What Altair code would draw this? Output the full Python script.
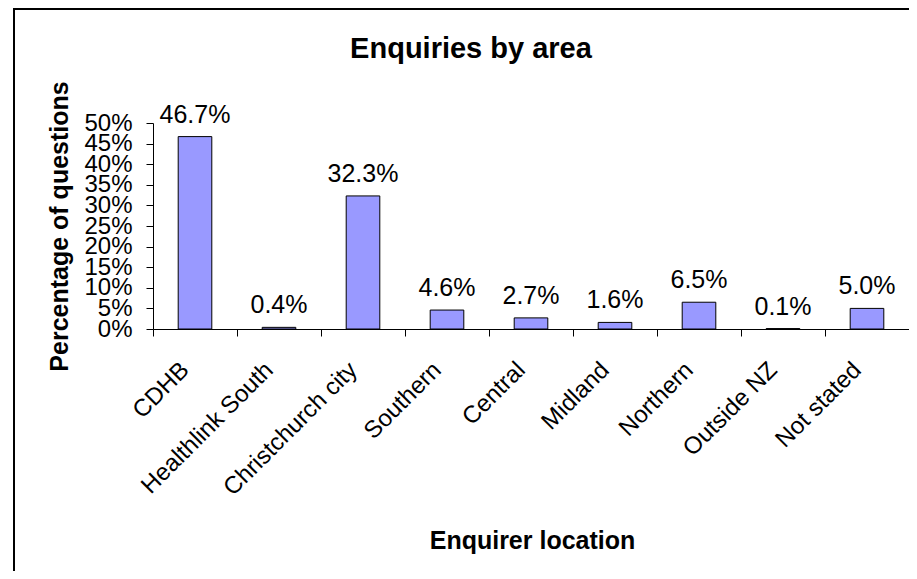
import altair as alt
import pandas as pd

categories = ["CDHB", "Healthlink South", "Christchurch city", "Southern", "Central",
              "Midland", "Northern", "Outside NZ", "Not stated"]
values = [0.467, 0.004, 0.323, 0.046, 0.027, 0.016, 0.065, 0.001, 0.050]
y_ticks = [0, 0.05, 0.10, 0.15, 0.20, 0.25, 0.30, 0.35, 0.40, 0.45, 0.50]

df = pd.DataFrame({"location": categories, "pct": values})
FONT = "Liberation Sans"

x_enc = alt.X(
    "location:N", sort=categories, title="Enquirer location",
    scale=alt.Scale(paddingInner=0, paddingOuter=0),
    axis=alt.Axis(
        labelAngle=-45, labelAlign="right", labelBaseline="middle",
        labelFontSize=24, labelFont=FONT, labelColor="black",
        labelOffset=-10, labelPadding=30, labelOverlap=False, labelBound=False,
        tickBand="extent", tickSize=7, tickColor="black",
        domainColor="black",
        titleFontSize=25, titleFont=FONT, titleFontWeight="bold", titleColor="black",
        titleX=379, titleY=219, titleBaseline="alphabetic", titleAlign="center",
    ),
)
y_enc = alt.Y(
    "pct:Q", scale=alt.Scale(domain=[0, 0.5]),
    axis=alt.Axis(
        values=y_ticks, format=".0%", grid=False,
        labelFontSize=24, labelFont=FONT, labelColor="black",
        labelPadding=14, labelOverlap=False, labelBound=False,
        tickSize=7, tickColor="black", domainColor="black",
        title="Percentage of questions", titleFontSize=25, titleFont=FONT,
        titleFontWeight="bold", titleColor="black", titleAngle=270,
        titleX=-86, titleBaseline="alphabetic",
    ),
)

base = alt.Chart(df).encode(x=x_enc, y=y_enc)

bars = base.mark_bar(
    width=alt.RelativeBandSize(0.4), color="#9999FF", stroke="black", strokeWidth=1
)

labels = base.mark_text(
    dy=-14, baseline="alphabetic", fontSize=25, font=FONT, color="black"
).encode(text=alt.Text("pct:Q", format=".1%"))

border = alt.Chart(pd.DataFrame({"b": [0]})).mark_rect(
    filled=False, stroke="black", strokeWidth=2
).encode(x=alt.value(-139), x2=alt.value(900), y=alt.value(-114), y2=alt.value(600))

chart = alt.layer(border, bars, labels).properties(
    width=756, height=206,
    padding={"left": 145, "top": 115, "right": 0, "bottom": 242},
    autosize=alt.AutoSizeParams(type="none"),
    background="white",
    title=alt.TitleParams(
        "Enquiries by area", fontSize=29, fontWeight="bold", font=FONT, color="black",
        dx=-60, offset=-79, baseline="alphabetic", anchor="middle",
    ),
).configure_view(stroke=None)

chart.save("out.html", embed_options={"renderer": "svg", "actions": False})
